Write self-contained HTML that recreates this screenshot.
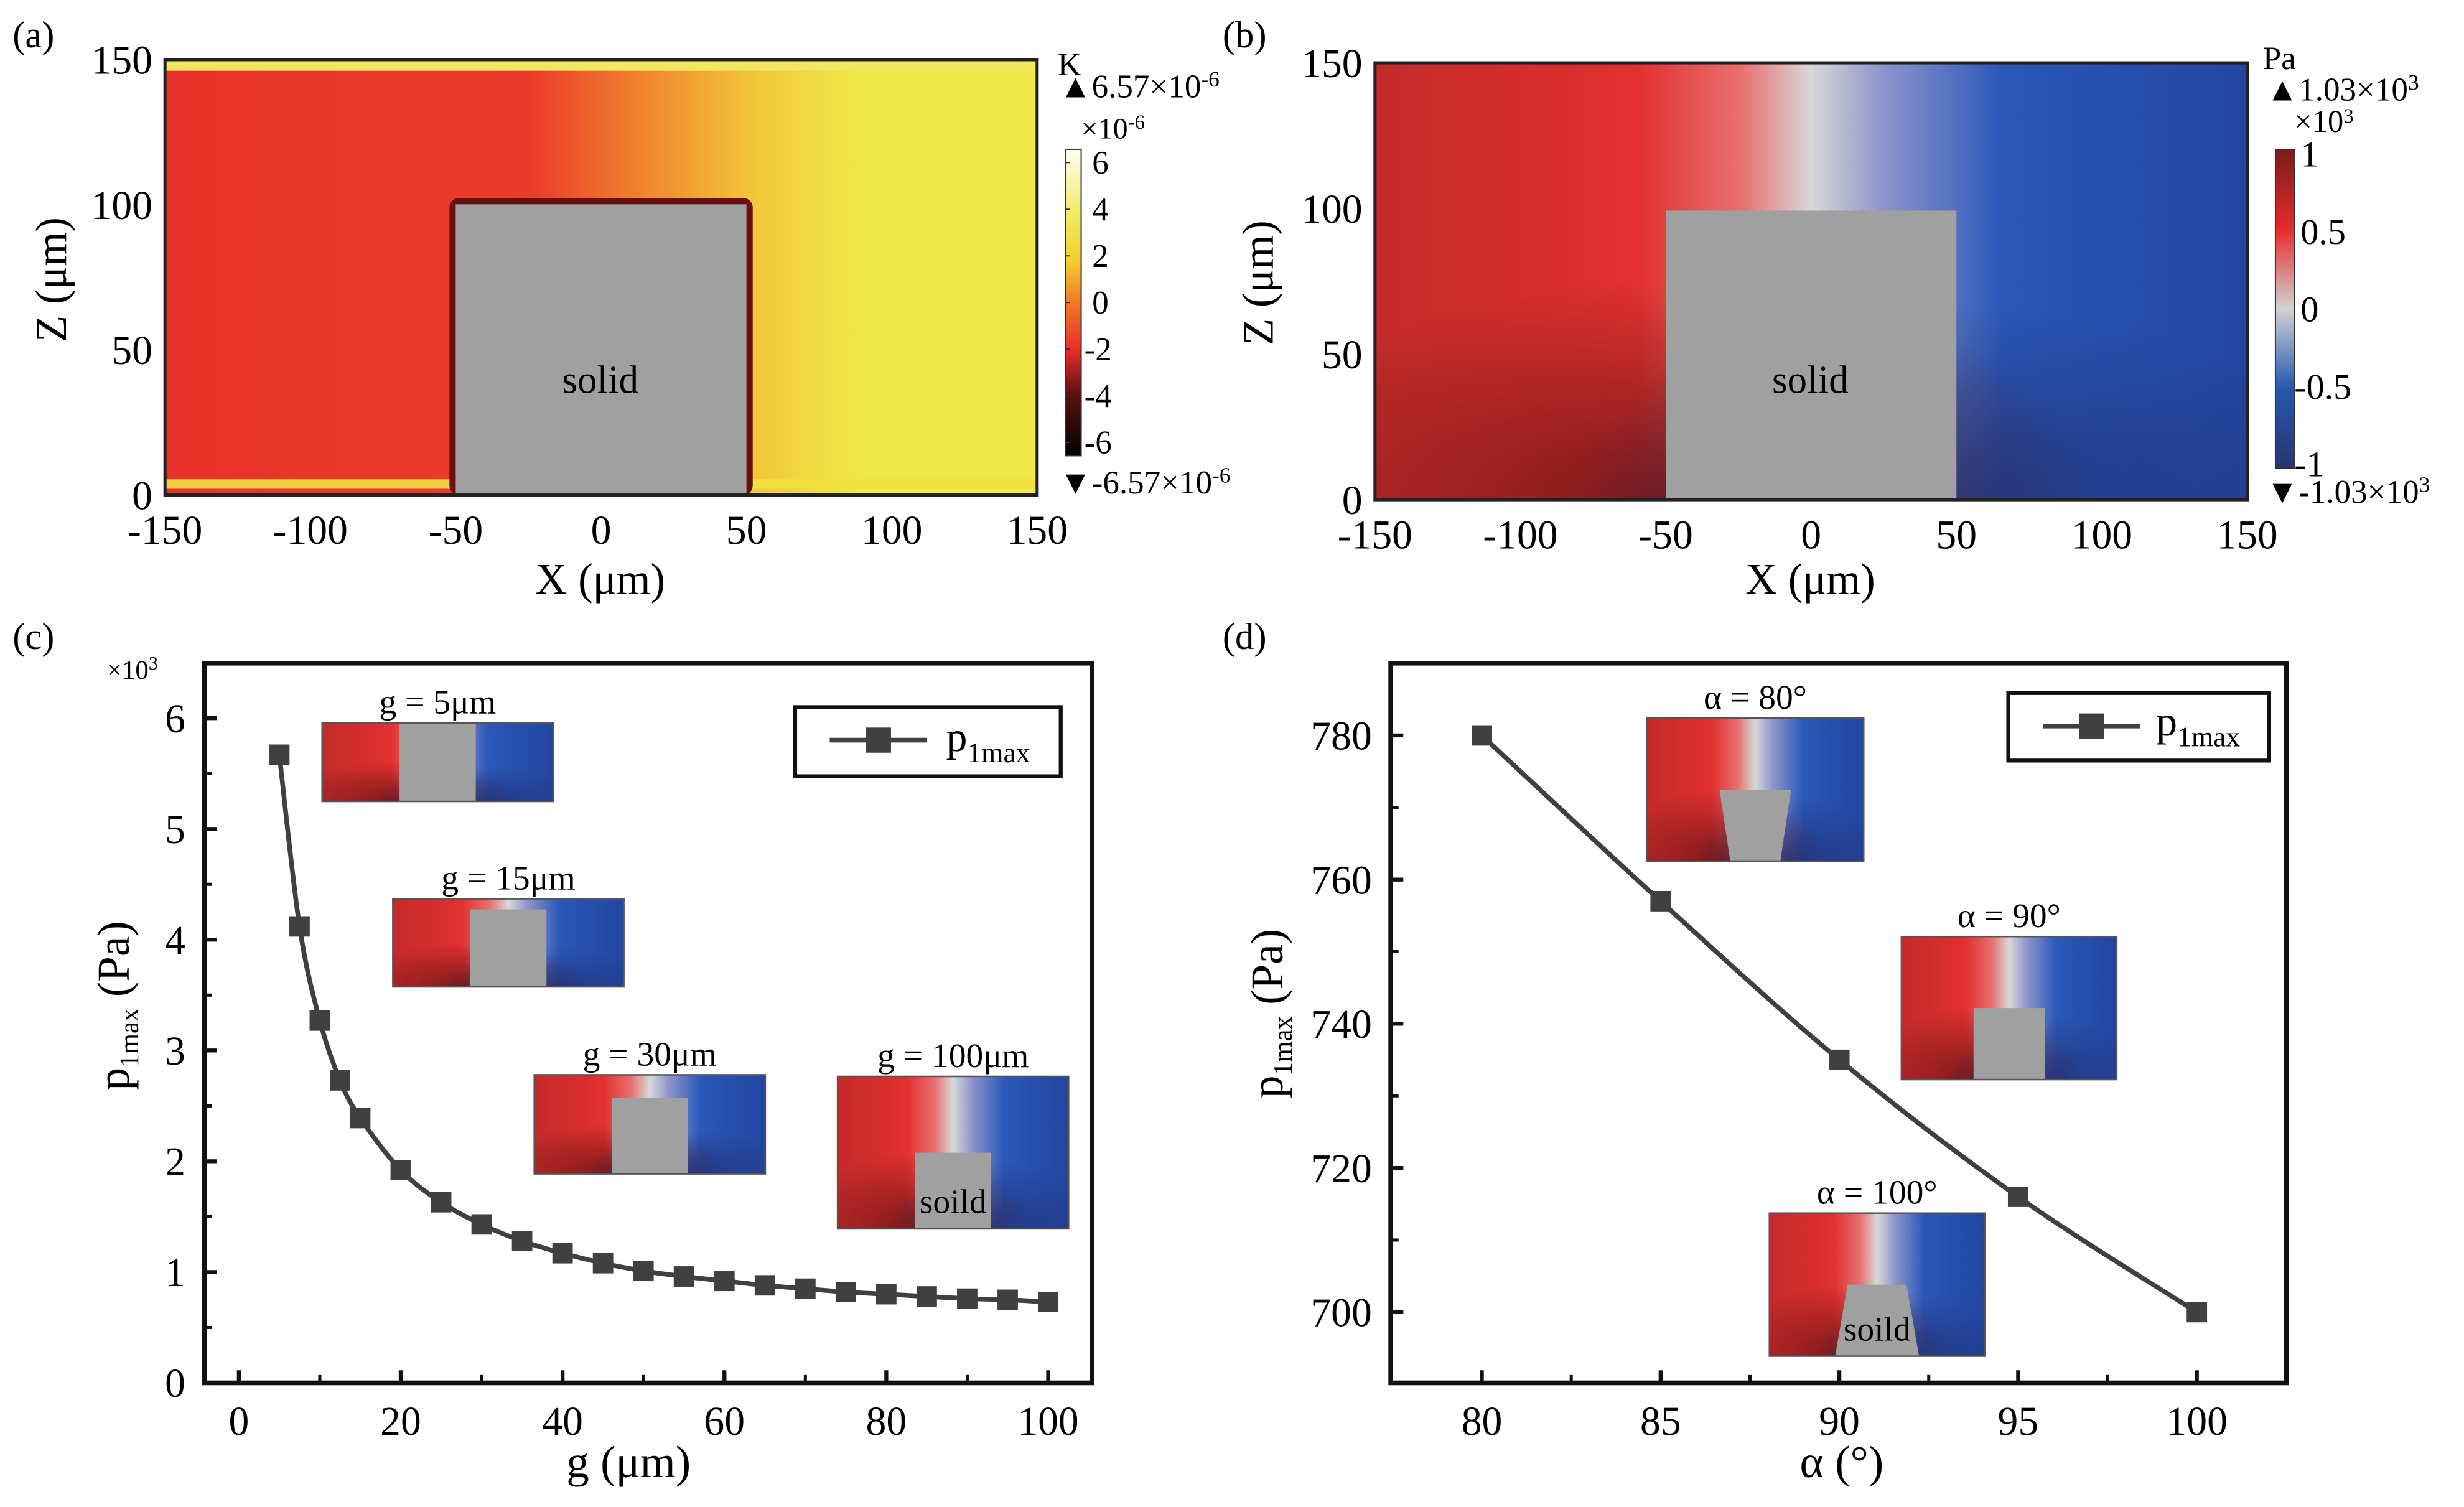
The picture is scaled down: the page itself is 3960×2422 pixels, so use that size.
<!DOCTYPE html>
<html><head><meta charset="utf-8">
<style>
html,body{margin:0;padding:0;background:#fff;}
svg{display:block;font-family:"Liberation Serif",serif;}
</style></head>
<body>
<svg id="fig" width="3960" height="2422" viewBox="0 0 1568 959" xmlns="http://www.w3.org/2000/svg">
<defs>
  <linearGradient id="gA" x1="0" x2="1" y1="0" y2="0">
    <stop offset="0" stop-color="#e8322b"/><stop offset="0.42" stop-color="#ea3c2a"/>
    <stop offset="0.55" stop-color="#f0862e"/><stop offset="0.68" stop-color="#f2c93a"/>
    <stop offset="0.8" stop-color="#f0ea48"/><stop offset="1" stop-color="#f0ea48"/>
  </linearGradient>
  <linearGradient id="gB" x1="0" x2="1" y1="0" y2="0">
    <stop offset="0" stop-color="#c42a2a"/><stop offset="0.3" stop-color="#e23030"/>
    <stop offset="0.42" stop-color="#e87070"/><stop offset="0.5" stop-color="#d8d8d8"/>
    <stop offset="0.58" stop-color="#8f96cc"/><stop offset="0.72" stop-color="#2a58b8"/>
    <stop offset="1" stop-color="#2345a0"/>
  </linearGradient>
  <radialGradient id="darkR" cx="0.33" cy="1" r="0.5">
    <stop offset="0" stop-color="#6a1414" stop-opacity="0.85"/><stop offset="1" stop-color="#6a1414" stop-opacity="0"/>
  </radialGradient>
  <radialGradient id="darkB" cx="0.67" cy="1" r="0.45">
    <stop offset="0" stop-color="#1e2a6a" stop-opacity="0.7"/><stop offset="1" stop-color="#1e2a6a" stop-opacity="0"/>
  </radialGradient>
  <linearGradient id="cbA" x1="0" x2="0" y1="1" y2="0">
    <stop offset="0" stop-color="#000"/><stop offset="0.2" stop-color="#5a1010"/>
    <stop offset="0.34" stop-color="#e82a2a"/><stop offset="0.5" stop-color="#f07a2a"/>
    <stop offset="0.64" stop-color="#f2d030"/><stop offset="0.78" stop-color="#f0ea60"/>
    <stop offset="1" stop-color="#fffff4"/>
  </linearGradient>
  <linearGradient id="cbB" x1="0" x2="0" y1="0" y2="1">
    <stop offset="0" stop-color="#7a1c1c"/><stop offset="0.25" stop-color="#e82a2a"/>
    <stop offset="0.5" stop-color="#d2d2d2"/><stop offset="0.75" stop-color="#2558b0"/>
    <stop offset="1" stop-color="#2a3470"/>
  </linearGradient>
</defs>

<g>
  <text x="8" y="30" font-size="24">(a)</text>
  <rect x="105" y="38" width="555" height="277" fill="url(#gA)"/>
  <rect x="105" y="38" width="555" height="7" fill="#f0e860"/>
  <rect x="105" y="305" width="183" height="6" fill="#f0d040"/>
  <rect x="477" y="305" width="183" height="6" fill="#f0e040"/>
  <rect x="286" y="126" width="193" height="189" rx="6" fill="#6a1010"/>
  <rect x="290" y="130" width="185" height="185" fill="#a0a0a0"/>
  <text x="382" y="250" font-size="25" text-anchor="middle">solid</text>
  <rect x="105" y="38" width="555" height="277" fill="none" stroke="#222" stroke-width="2"/>
  <g id="axA" font-size="26"></g>
  <text x="382" y="378" font-size="28" text-anchor="middle">X (μm)</text>
  <text transform="translate(42,178) rotate(-90)" font-size="28" text-anchor="middle">Z (μm)</text>
  <rect x="678" y="95" width="10" height="195" fill="url(#cbA)" stroke="#333" stroke-width="0.8"/>
  <g id="cbAt" font-size="21"></g>
  <text x="673" y="48" font-size="21">K</text>
  <text x="674" y="62" font-size="21">▲6.57×10<tspan font-size="14" dy="-7">-6</tspan></text>
  <text x="688" y="88" font-size="19">×10<tspan font-size="13" dy="-6">-6</tspan></text>
  <text x="674" y="314" font-size="21">▼-6.57×10<tspan font-size="14" dy="-7">-6</tspan></text>
</g>

<g>
  <text x="778" y="30" font-size="24">(b)</text>
  <rect x="875" y="40" width="555" height="278" fill="url(#gB)"/>
  <rect x="875" y="40" width="555" height="278" fill="url(#darkR)"/>
  <rect x="875" y="40" width="555" height="278" fill="url(#darkB)"/>
  <rect x="1060" y="134" width="185" height="184" fill="#a0a0a0"/>
  <text x="1152" y="250" font-size="25" text-anchor="middle">solid</text>
  <rect x="875" y="40" width="555" height="278" fill="none" stroke="#222" stroke-width="2"/>
  <g id="axB" font-size="26"></g>
  <text x="1152" y="378" font-size="28" text-anchor="middle">X (μm)</text>
  <text transform="translate(810,180) rotate(-90)" font-size="28" text-anchor="middle">Z (μm)</text>
  <rect x="1448" y="95" width="12" height="203" fill="url(#cbB)" stroke="#333" stroke-width="0.8"/>
  <g id="cbBt" font-size="23"></g>
  <text x="1440" y="44" font-size="21">Pa</text>
  <text x="1442" y="64" font-size="21">▲1.03×10<tspan font-size="14" dy="-7">3</tspan></text>
  <text x="1460" y="84" font-size="20">×10<tspan font-size="13" dy="-6">3</tspan></text>
  <text x="1442" y="320" font-size="21">▼-1.03×10<tspan font-size="14" dy="-7">3</tspan></text>
</g>

<g>
  <text x="8" y="413" font-size="24">(c)</text>
  <text x="68" y="432" font-size="17">×10<tspan font-size="12" dy="-6">3</tspan></text>
  <rect x="130" y="422" width="565" height="458" fill="none" stroke="#111" stroke-width="3"/>
  <g id="axC" font-size="26"></g>
  <g id="insetsC"></g>
  <g id="seriesC"></g>
  <text x="400" y="940" font-size="29" text-anchor="middle">g (μm)</text>
  <text transform="translate(82,640) rotate(-90)" font-size="29" text-anchor="middle">p<tspan font-size="17" dy="6">1max</tspan><tspan dy="-6"> (Pa)</tspan></text>
  <g>
    <rect x="506" y="450" width="169" height="44" fill="#fff" stroke="#111" stroke-width="2.5"/>
    <line x1="528" y1="471" x2="590" y2="471" stroke="#404040" stroke-width="3"/>
    <rect x="551" y="463" width="16" height="16" fill="#404040"/>
    <text x="602" y="478" font-size="27">p<tspan font-size="18" dy="7">1max</tspan></text>
  </g>
</g>

<g>
  <text x="778" y="413" font-size="24">(d)</text>
  <rect x="885" y="422" width="570" height="458" fill="none" stroke="#111" stroke-width="3"/>
  <g id="axD" font-size="26"></g>
  <g id="insetsD"></g>
  <g id="seriesD"></g>
  <text x="1172" y="940" font-size="29" text-anchor="middle">α (°)</text>
  <text transform="translate(816,645) rotate(-90)" font-size="29" text-anchor="middle">p<tspan font-size="17" dy="6">1max</tspan><tspan dy="-6"> (Pa)</tspan></text>
  <g>
    <rect x="1278" y="441" width="166" height="43" fill="#fff" stroke="#111" stroke-width="2.5"/>
    <line x1="1300" y1="462" x2="1362" y2="462" stroke="#404040" stroke-width="3"/>
    <rect x="1323" y="454" width="16" height="16" fill="#404040"/>
    <text x="1372" y="468" font-size="27">p<tspan font-size="18" dy="7">1max</tspan></text>
  </g>
</g>
</svg>
<script>
const xTicksField = [-150,-100,-50,0,50,100,150];
const zTicksField = [0,50,100,150];
const cbATicks = [6,4,2,0,-2,-4,-6];
const cbBTicks = [1,0.5,0,-0.5,-1];
const gValues = [5,7.5,10,12.5,15,20,25,30,35,40,45,50,55,60,65,70,75,80,85,90,95,100];
const pValuesC = [5.67,4.12,3.27,2.73,2.39,1.92,1.63,1.43,1.28,1.17,1.08,1.01,0.96,0.92,0.88,0.85,0.82,0.80,0.78,0.76,0.75,0.73];
const xTicksC = [0,20,40,60,80,100];
const yTicksC = [0,1,2,3,4,5,6];
const alphaValues = [80,85,90,95,100];
const pValuesD = [780,757,735,716,700];
const xTicksD = [80,85,90,95,100];
const yTicksD = [700,720,740,760,780];
const insetLabelsC = ['g = 5μm','g = 15μm','g = 30μm','g = 100μm'];
const insetLabelsD = ['α = 80°','α = 90°','α = 100°'];

const NS='http://www.w3.org/2000/svg';
function mk(parent,tag,attrs,text){const e=document.createElementNS(NS,tag);for(const k in attrs)e.setAttribute(k,attrs[k]);if(text!==undefined)e.textContent=text;parent.appendChild(e);return e;}
function lin(d0,d1,r0,r1){return v=>r0+(v-d0)*(r1-r0)/(d1-d0);}

function fieldAxes(gid,x0,x1,y0,y1){
  const g=document.getElementById(gid);
  const sx=lin(-150,150,x0,x1), sz=lin(0,150,y0,y1);
  xTicksField.forEach(v=>{
    const t=mk(g,'text',{x:sx(v),y:y0+31,'text-anchor':'middle'},String(v));
    
    
  });
  zTicksField.forEach(v=>{
    const t=mk(g,'text',{x:x0-8,y:sz(v)+9,'text-anchor':'end'},String(v));
    
    
  });
}
fieldAxes('axA',105,660,315,38);
fieldAxes('axB',875,1430,318,40);

(function(){
  const g=document.getElementById('cbAt'); const s=lin(6.57,-6.57,95,290);
  cbATicks.forEach(v=>{
    mk(g,'line',{x1:678,x2:681,y1:s(v),y2:s(v),stroke:'#333','stroke-width':0.8});
    const t=mk(g,'text',{x:v<0?690:695,y:s(v)+7},String(v));
    
    
  });
  const g2=document.getElementById('cbBt'); const s2=lin(1.03,-1.03,95,298);
  cbBTicks.forEach(v=>{
    const t=mk(g2,'text',{x:v<0?1460:1464,y:s2(v)+8},v<0?'-'+Math.abs(v):String(v));
    
    
  });
})();

function lineAxes(gid,x0,x1,y0,y1,xd0,xd1,yd0,yd1,xt,yt,minorX,minorY){
  const g=document.getElementById(gid);
  const sx=lin(xd0,xd1,x0,x1), sy=lin(yd0,yd1,y0,y1);
  const L=gid==='axC'?130:885;
  xt.forEach(v=>{
    mk(g,'line',{x1:sx(v),x2:sx(v),y1:880,y2:872,stroke:'#111','stroke-width':2.5});
    const t=mk(g,'text',{x:sx(v),y:913,'text-anchor':'middle'},String(v));
    
    
  });
  minorX.forEach(v=>mk(g,'line',{x1:sx(v),x2:sx(v),y1:880,y2:875,stroke:'#111','stroke-width':2}));
  yt.forEach(v=>{
    mk(g,'line',{x1:L,x2:L+8,y1:sy(v),y2:sy(v),stroke:'#111','stroke-width':2.5});
    const t=mk(g,'text',{x:L-12,y:sy(v)+9,'text-anchor':'end'},String(v));
    
    
  });
  minorY.forEach(v=>mk(g,'line',{x1:L,x2:L+5,y1:sy(v),y2:sy(v),stroke:'#111','stroke-width':2}));
  return [sx,sy];
}
const [sxC,syC]=lineAxes('axC',152,667,880,457,0,100,0,6,xTicksC,yTicksC,[10,30,50,70,90],[0.5,1.5,2.5,3.5,4.5,5.5]);
const [sxD,syD]=lineAxes('axD',943,1398,835,468,80,100,700,780,xTicksD,yTicksD,[82.5,87.5,92.5,97.5],[710,730,750,770]);

function series(gid,xs,ys,sx,sy,name){
  const g=document.getElementById(gid);
  const pts=xs.map((x,i)=>[sx(x),sy(ys[i])]);
  let d='M'+pts[0].join(',');
  for(let i=0;i+1<pts.length;i++){
    const p0=pts[Math.max(0,i-1)],p1=pts[i],p2=pts[i+1],p3=pts[Math.min(pts.length-1,i+2)];
    const c1=[p1[0]+(p2[0]-p0[0])/6,p1[1]+(p2[1]-p0[1])/6], c2=[p2[0]-(p3[0]-p1[0])/6,p2[1]-(p3[1]-p1[1])/6];
    d+=' C'+c1.join(',')+' '+c2.join(',')+' '+p2.join(',');
  }
  const path=mk(g,'path',{d:d,fill:'none',stroke:'#404040','stroke-width':3});
  
  
  pts.forEach(p=>{
    const r=mk(g,'rect',{x:p[0]-6.5,y:p[1]-6.5,width:13,height:13,fill:'#404040'});
    
    
  });
}
series('seriesC',gValues,pValuesC,sxC,syC,'p1max-vs-g');
series('seriesD',alphaValues,pValuesD,sxD,syD,'p1max-vs-alpha');

function inset(gid,x,y,w,h,label,solidW,solidH,shape,txt){
  const g=document.getElementById(gid);
  const grp=mk(g,'g',{});
  
  
  mk(grp,'text',{x:x+w/2,y:y-6,'text-anchor':'middle','font-size':22},label);
  mk(grp,'rect',{x:x,y:y,width:w,height:h,fill:'url(#gB)'});
  mk(grp,'rect',{x:x,y:y,width:w,height:h,fill:'url(#darkR)'});
  mk(grp,'rect',{x:x,y:y,width:w,height:h,fill:'url(#darkB)'});
  const cx=x+w/2, sw=solidW*w, sh=solidH*h;
  if(shape==='rect') mk(grp,'rect',{x:cx-sw/2,y:y+h-sh,width:sw,height:sh,fill:'#a0a0a0'});
  else if(shape==='narrowBottom') mk(grp,'polygon',{points:`${cx-sw/2},${y+h-sh} ${cx+sw/2},${y+h-sh} ${cx+sw*0.35},${y+h} ${cx-sw*0.35},${y+h}`,fill:'#a0a0a0'});
  else mk(grp,'polygon',{points:`${cx-sw*0.35},${y+h-sh} ${cx+sw*0.35},${y+h-sh} ${cx+sw/2},${y+h} ${cx-sw/2},${y+h}`,fill:'#a0a0a0'});
  mk(grp,'rect',{x:x,y:y,width:w,height:h,fill:'none',stroke:'#555','stroke-width':1});
  if(txt) mk(grp,'text',{x:cx,y:y+h-10,'text-anchor':'middle','font-size':22},txt);
}
inset('insetsC',205,460,147,50,insetLabelsC[0],0.33,1,'rect');
inset('insetsC',250,572,147,56,insetLabelsC[1],0.33,0.88,'rect');
inset('insetsC',340,684,147,63,insetLabelsC[2],0.33,0.77,'rect');
inset('insetsC',533,685,147,97,insetLabelsC[3],0.33,0.5,'rect','soild');
inset('insetsD',1048,457,138,91,insetLabelsD[0],0.33,0.5,'narrowBottom');
inset('insetsD',1210,596,137,91,insetLabelsD[1],0.33,0.5,'rect');
inset('insetsD',1126,772,137,91,insetLabelsD[2],0.39,0.5,'wideBottom','soild');
</script>
</body></html>
